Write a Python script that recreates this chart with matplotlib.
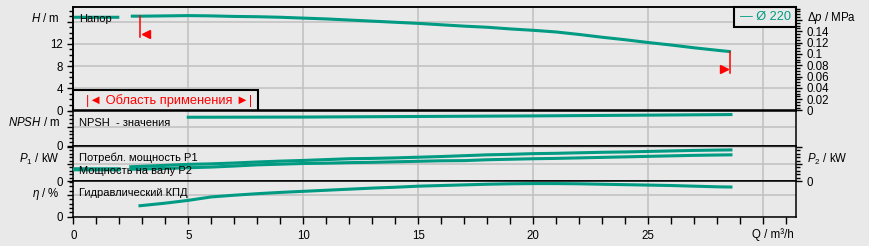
import numpy as np
import matplotlib
matplotlib.use("Agg")
import matplotlib.pyplot as plt
from matplotlib.ticker import FixedLocator, MultipleLocator, FixedFormatter
from matplotlib.patches import Rectangle

plt.rcParams['font.family'] = ['Liberation Sans', 'DejaVu Sans']
plt.rcParams['mathtext.fontset'] = 'custom'
plt.rcParams['mathtext.rm'] = 'Liberation Sans'
plt.rcParams['mathtext.it'] = 'Liberation Sans:italic'

# ---------------- data ----------------
curve_name = "Ø 220"
q_head = [0, 2, 2.25, 2.5, 3, 4, 5, 6, 7, 8, 9, 10, 11, 12, 13, 14, 15, 16, 17, 18,
          19, 20, 21, 22, 23, 24, 25, 26, 27, 28, 28.6]
head = [16.8, 16.8, np.nan, 17.0, 17.0, 17.05, 17.1, 17.05, 16.95, 16.9, 16.8, 16.65,
        16.5, 16.3, 16.1, 15.9, 15.7, 15.45, 15.2, 15.0, 14.7, 14.45, 14.15, 13.7,
        13.2, 12.75, 12.25, 11.8, 11.3, 10.85, 10.6]
q_npsh = [5, 10, 15, 20, 25, 28.6]
npsh = [1.49, 1.50, 1.53, 1.56, 1.60, 1.63]
q_pow = [0, 2, 2.25, 2.5, 4, 5, 6, 7, 8, 9, 10, 11, 12, 13, 14, 15, 16, 17, 18, 19,
         20, 21, 22, 23, 24, 25, 26, 27, 28, 28.6]
p1 = [0.72, 0.72, np.nan, 0.84, 0.92, 0.98, 1.01, 1.06, 1.12, 1.17, 1.21, 1.26, 1.31,
      1.33, 1.36, 1.40, 1.44, 1.49, 1.54, 1.57, 1.61, 1.63, 1.66, 1.69, 1.71, 1.74,
      1.77, 1.80, 1.82, 1.83]
p2 = [0.66, 0.66, np.nan, 0.69, 0.74, 0.78, 0.82, 0.88, 0.95, 0.99, 1.03, 1.05, 1.08,
      1.10, 1.13, 1.16, 1.19, 1.20, 1.25, 1.28, 1.31, 1.33, 1.36, 1.39, 1.42, 1.45,
      1.48, 1.51, 1.53, 1.54]
q_eta = [2.9, 4, 5, 6, 7, 8, 9, 10, 11, 12, 13, 14, 15, 16, 17, 18, 19, 20, 21, 22,
         23, 24, 25, 26, 27, 28, 28.6]
eta = [20.0, 24.8, 30.0, 36.4, 39.6, 42.4, 44.8, 46.8, 48.8, 50.8, 52.8, 54.4, 56.4,
       57.6, 58.8, 60.0, 60.8, 61.2, 61.2, 60.8, 60.0, 59.2, 58.4, 57.6, 56.4, 55.2, 54.8]
q_limits = [2.9, 28.57]          # operating range
h_limit_left = [17.0, 13.2]
h_limit_right = [10.6, 6.77]
x_tick_labels = ['0', '5', '10', '15', '20', '25', '']
dp_tick_labels = ['0', '0.02', '0.04', '0.06', '0.08', '0.1', '0.12', '0.14', '']

# ---------------- styling ----------------
W, HH = 869, 246
BG = '#e9e9e9'
TEAL = '#009b82'
GRID = '#c0c0c0'
RED = '#ff0000'
LW = 2.2
FS = 8.3

fig = plt.figure(figsize=(W / 100, HH / 100), dpi=100)
fig.patch.set_facecolor(BG)

L, R = 73.3, 796.0
XMAX = 31.43

def rect(top, bot):
    return [L / W, 1 - bot / HH, (R - L) / W, (bot - top) / HH]

def fx(px):
    return px / W

def fy(py):
    return 1 - py / HH

axH = fig.add_axes(rect(7, 110.5))
axN = fig.add_axes(rect(110.5, 146))
axP = fig.add_axes(rect(146, 181))
axE = fig.add_axes(rect(181, 216.5))

for ax in (axH, axN, axP, axE):
    ax.set_facecolor(BG)
    ax.set_xlim(0, XMAX)
    for s in ax.spines.values():
        s.set_color('black')
        s.set_linewidth(1.1)
    ax.xaxis.set_major_locator(MultipleLocator(5))
    ax.grid(True, which='major', color=GRID, linewidth=1.1, zorder=0)
    ax.set_axisbelow(True)
    ax.tick_params(axis='y', which='major', direction='out', length=4.3, width=1.0,
                   labelsize=FS, pad=3, colors='black')
    ax.tick_params(axis='y', which='minor', direction='out', length=2.6, width=1.0)
    if ax is not axE:
        ax.tick_params(axis='x', which='both', length=0, labelbottom=False)

# --- head panel ---
HMAX = 18.65
axH.set_ylim(0, HMAX)
axH.yaxis.set_major_locator(FixedLocator([0, 4, 8, 12, 16]))
axH.yaxis.set_major_formatter(FixedFormatter(['0', '4', '8', '12', '']))
axH.yaxis.set_minor_locator(MultipleLocator(1))
axH.plot(q_head, head, color=TEAL, lw=LW, solid_capstyle='butt', zorder=3)
axH.plot([q_limits[0]] * 2, h_limit_left, color=RED, lw=1.1, zorder=4)
axH.plot([q_limits[1]] * 2, h_limit_right, color=RED, lw=1.1, zorder=4)
axH.plot(q_limits[0] + 0.25, 13.75, marker='<', color=RED, ms=6, zorder=4)
axH.plot(q_limits[1] - 0.25, 7.4, marker='>', color=RED, ms=6, zorder=4)

axDP = axH.twinx()
axDP.set_ylim(0, HMAX / 101.97)
axDP.yaxis.set_major_locator(FixedLocator([0, 0.02, 0.04, 0.06, 0.08, 0.10, 0.12, 0.14, 0.16]))
axDP.yaxis.set_major_formatter(FixedFormatter(dp_tick_labels))
axDP.yaxis.set_minor_locator(MultipleLocator(0.005))
axDP.tick_params(axis='y', which='major', direction='out', length=4.3, width=1.0,
                 labelsize=FS, pad=3)
axDP.tick_params(axis='y', which='minor', direction='out', length=2.6, width=1.0)
for s in axDP.spines.values():
    s.set_color('black')
    s.set_linewidth(1.1)

# Область применения box
axH.add_patch(Rectangle((fx(L), fy(110.5)), fx(258) - fx(L), fy(90) - fy(110.5),
                        transform=fig.transFigure, facecolor=BG, edgecolor='black',
                        lw=1.5, zorder=6, clip_on=False))
fig.text(fx(169), fy(100.5), '|◄ Область применения ►|', color=RED, fontsize=9.3,
         ha='center', va='center', zorder=7)
# legend box
axH.add_patch(Rectangle((fx(734), fy(27)), fx(R) - fx(734), fy(7) - fy(27),
                        transform=fig.transFigure, facecolor=BG, edgecolor='black',
                        lw=1.5, zorder=6, clip_on=False))
fig.text(fx(765), fy(17), '— ' + curve_name, color=TEAL, fontsize=9.2,
         ha='center', va='center', zorder=7)

# --- NPSH panel ---
axN.set_ylim(0, 1.84)
axN.yaxis.set_major_locator(FixedLocator([0, 1]))
axN.yaxis.set_major_formatter(FixedFormatter(['0', '']))
axN.yaxis.set_minor_locator(MultipleLocator(0.2))
axN.plot(q_npsh, npsh, color=TEAL, lw=LW, zorder=3)

# --- power panel ---
axP.set_ylim(0, 2.06)
axP.yaxis.set_major_locator(FixedLocator([0, 1, 2]))
axP.yaxis.set_major_formatter(FixedFormatter(['0', '', '']))
axP.yaxis.set_minor_locator(MultipleLocator(0.2))
axP.tick_params(axis='y', which='both', right=True, labelright=True)
axP.plot(q_pow, p1, color=TEAL, lw=LW, zorder=3)
axP.plot(q_pow, p2, color=TEAL, lw=LW, zorder=3)

# --- efficiency panel ---
axE.set_ylim(0, 66)
axE.yaxis.set_major_locator(FixedLocator([0, 40]))
axE.yaxis.set_major_formatter(FixedFormatter(['0', '']))
axE.yaxis.set_minor_locator(MultipleLocator(8))
axE.plot(q_eta, eta, color=TEAL, lw=LW, zorder=3)
axE.xaxis.set_major_locator(FixedLocator([0, 5, 10, 15, 20, 25, 30]))
axE.xaxis.set_major_formatter(FixedFormatter(x_tick_labels))
axE.xaxis.set_minor_locator(MultipleLocator(1))
axE.tick_params(axis='x', which='major', direction='out', length=5, width=1.0,
                labelsize=FS, pad=5)
axE.tick_params(axis='x', which='minor', direction='out', length=5, width=1.0)

# --- texts ---
fig.text(fx(752), fy(235), 'Q / m³/h', fontsize=FS, ha='left', va='center')
fig.text(fx(60), fy(18), '$H$ / m', fontsize=FS, ha='right', va='center')
fig.text(fx(60), fy(123), '$NPSH$ / m', fontsize=FS, ha='right', va='center')
fig.text(fx(60), fy(159.5), '$P_1$ / kW', fontsize=FS, ha='right', va='center')
fig.text(fx(60), fy(194.5), r'$\eta$ / %', fontsize=FS, ha='right', va='center')
fig.text(fx(807), fy(18), r'$\Delta p$ / MPa', fontsize=FS, ha='left', va='center')
fig.text(fx(807), fy(159), '$P_2$ / kW', fontsize=FS, ha='left', va='center')

tfs = 8
fig.text(fx(79), fy(19), 'Напор', fontsize=tfs, ha='left', va='center', zorder=5)
fig.text(fx(79), fy(123), 'NPSH  - значения', fontsize=tfs, ha='left', va='center')
fig.text(fx(79), fy(158), 'Потребл. мощность P1', fontsize=tfs, ha='left', va='center')
fig.text(fx(79), fy(170.5), 'Мощность на валу P2', fontsize=tfs, ha='left', va='center')
fig.text(fx(79), fy(192.5), 'Гидравлический КПД', fontsize=tfs, ha='left', va='center')

fig.savefig('out.png', dpi=100, facecolor=BG)
